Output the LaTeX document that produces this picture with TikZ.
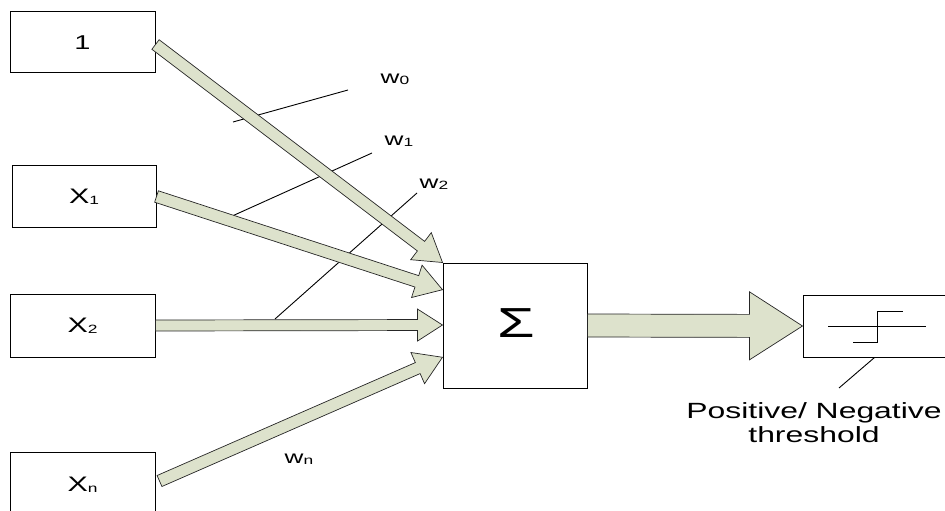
\documentclass[tikz,border=0pt]{standalone}
\usepackage{fontspec}
\setmainfont{Liberation Sans}[FakeStretch=1.45]
\usetikzlibrary{calc}
\definecolor{arrowfill}{RGB}{221,226,204}
\tikzset{
  box/.style={draw, line width=1pt, inner sep=0pt, font=\fontsize{21}{21}\selectfont},
  arrowstyle/.style={draw=black!85, line width=0.7pt, fill=arrowfill, line join=miter},
  wline/.style={line width=0.9pt},
  wlabel/.style={inner sep=0pt, font=\fontsize{18}{18}\selectfont},
}
\newcommand\lsub[1]{{\fontsize{12}{12}\selectfont\raisebox{-1pt}{#1}}}
% #1 from, #2 to, #3 shaft half width, #4 head half width, #5 head length
\newcommand\blockarrow[5]{%
  \draw[arrowstyle] let \p1=#1, \p2=#2,
    \n1={atan2(\y2-\y1,\x2-\x1)}, \n2={veclen(\x2-\x1,\y2-\y1)} in
    [shift={(\p1)}, rotate=\n1]
    (0pt,-#3) -- ({\n2*1pt-#5},-#3) -- ({\n2*1pt-#5},-#4) -- ({\n2*1pt},0pt)
    -- ({\n2*1pt-#5},#4) -- ({\n2*1pt-#5},#3) -- (0pt,#3) -- cycle;}
\begin{document}
\begin{tikzpicture}[x=1pt,y=-1pt]
\useasboundingbox (0,0) rectangle (945,511);
\clip (0,0) rectangle (945,511);
% input boxes
\node[box, minimum width=145pt, minimum height=61pt] (b1) at (82.5,42.5) {\fontsize{20}{20}\selectfont 1};
\node[box, minimum width=144pt, minimum height=62pt] (x1) at (84,196.5) {X\lsub{1}};
\node[box, minimum width=145pt, minimum height=63pt] (x2) at (82.5,325.5) {X\lsub{2}};
\node[box, minimum width=145pt, minimum height=68pt] (xn) at (82.5,486) {\raisebox{4pt}{X\lsub{n}}};
% sum box
\node[box, minimum width=144pt, minimum height=125pt] (sig) at (515,325.5) {};
\node[inner sep=0pt, font=\fontsize{42}{42}\selectfont] (sigma) at (516,323) {Σ};
% threshold box
\node[box, minimum width=150pt, minimum height=62pt] (th) at (878,326) {};
\draw[line width=0.9pt] (828,326) -- (926,326);
\draw[line width=0.9pt] (853,342) -- (877,342) -- (877,311) -- (903,311);
\coordinate (lead) at (839,388);
\draw[line width=0.9pt] ($(th.south west)+(72,0)$) -- (lead);
\node[inner sep=0pt, align=center, font=\fontsize{22}{24}\selectfont] (thtxt) at (814,423) {Positive/ Negative\\threshold};
% weight lines
\draw[wline] (233,122) -- (348,90);
\draw[wline] (230,217) -- (372,153);
\draw[wline] (275,319) -- (417,193);
\node[wlabel] (w0) at (395,79) {w\lsub{0}};
\node[wlabel] (w1) at (399,141) {w\lsub{1}};
\node[wlabel] (w2) at (434,184) {w\lsub{2}};
\node[wlabel] (wn) at (299,459) {w\lsub{n}};
% arrow tips on the sum box
\coordinate (t0) at (sig.north west);
\coordinate (t1) at ($(sig.north west)!0.216!(sig.south west)$);
\coordinate (t2) at ($(sig.north west)!0.496!(sig.south west)$);
\coordinate (t3) at ($(sig.north west)!0.752!(sig.south west)$);
\coordinate (s0) at ($(b1.east)+(0,2)$);
\coordinate (s3) at ($(xn.east)+(4,-5)$);
\blockarrow{(s0)}{(t0)}{6pt}{17pt}{27pt}
\blockarrow{(x1.east)}{(t1)}{6pt}{17pt}{27pt}
\blockarrow{(x2.east)}{(t2)}{5.5pt}{16pt}{25pt}
\blockarrow{(s3)}{(t3)}{6pt}{17pt}{27pt}
% output arrow
\blockarrow{(sig.east)}{(th.west)}{11.5pt}{34pt}{53pt}
\end{tikzpicture}
\end{document}
